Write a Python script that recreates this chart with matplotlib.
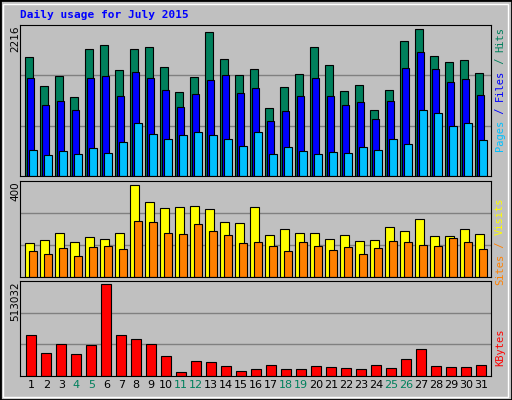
import matplotlib
matplotlib.use("Agg")
import matplotlib.pyplot as plt
from matplotlib.patches import Rectangle
import numpy as np

days = list(range(1, 32))
weekend = [4, 5, 11, 12, 18, 19, 25, 26]
hits = [1793,1355,1506,1188,1914,1974,1596,1914,1944,1642,1264,1491,2171,1763,1521,1612,1022,1340,1536,1944,1672,1279,1370,992,1294,2035,2216,1808,1717,1747,1551]
files = [1476,1068,1128,992,1476,1506,1204,1566,1476,1294,1037,1234,1445,1521,1249,1324,826,977,1204,1476,1204,1068,1113,856,1128,1627,1868,1612,1415,1460,1219]
pages = [388,312,373,327,418,342,509,796,630,554,614,660,614,554,448,660,327,433,373,327,358,342,433,388,554,478,992,947,750,796,539]
visits = [147,160,191,151,173,164,191,400,326,300,304,308,295,239,234,304,182,208,191,191,164,182,156,160,217,199,252,177,177,208,186]
sites = [112,99,125,90,129,134,121,243,239,191,186,230,199,182,147,151,134,112,151,134,116,129,99,125,156,151,138,134,169,151,121]
kbytes = [230300,129200,179700,123600,174100,513032,230300,207800,179700,112300,22500,84200,78600,56200,28100,39300,61800,39300,39300,56200,50500,44900,39300,61800,44900,95500,151600,56200,50500,50500,61800]

W, H = 512, 400
BG = "#C0C0C0"
fig = plt.figure(figsize=(W/100, H/100), dpi=100, facecolor=BG)
fig.add_artist(Rectangle((0, 0), 1, 1, transform=fig.transFigure, fill=False, lw=2, ec="black"))
fig.add_artist(Rectangle((3/W, 3/H), 1-7/W, 1-7/H, transform=fig.transFigure, fill=False, lw=1, ec="white"))
mono = "DejaVu Sans Mono"
fig.text(20/W, 1-15/H, "Daily usage for July 2015", color="#0000FF", fontweight="bold",
         family=mono, fontsize=8, va="center", ha="left")

x = np.array(days)
XL = (0.3, 31.7)

def mkax(top, bot, ymax):
    ax = fig.add_axes([20/W, 1-bot/H, 471/W, (bot-top)/H])
    ax.set_facecolor(BG)
    ax.set_xlim(*XL)
    ax.set_ylim(0, ymax)
    for f in (1/3, 2/3):
        ax.axhline(ymax*f, color="#808080", lw=1, zorder=0)
    ax.set_xticks([]); ax.set_yticks([])
    for s in ax.spines.values():
        s.set_color("black")
    return ax

def vlabel(ytop_px, parts, xpx=500):
    # parts: list of (text, color); reading bottom-to-top, last part at top
    full = "".join(t for t, c in parts)
    step = 6.2
    y = ytop_px + step*len(full)
    for t, c in parts:
        fig.text(xpx/W, 1-y/H, t, rotation=90, color=c, family=mono, fontsize=7.5,
                 ha="center", va="bottom")
        y -= step*len(t)

kw = dict(align="edge", edgecolor="black", linewidth=0.8)
ax1 = mkax(25, 176, 2281)
ax1.bar(x-0.35, hits, 0.5, color="#00805C", **kw)
ax1.bar(x-0.24, files, 0.5, color="#0000FF", **kw)
ax1.bar(x-0.10, pages, 0.5, color="#00C0FF", **kw)
fig.text(15/W, 1-25/H, "2216", rotation=90, fontsize=7.5, ha="center", va="top", family="DejaVu Sans")
vlabel(27, [("Pages", "#00C0FF"), (" / ", "#0000FF"), ("Files", "#0000FF"), (" / ", "#00805C"), ("Hits", "#00805C")])

ax2 = mkax(181, 277, 416)
ax2.bar(x-0.35, visits, 0.55, color="#FFFF00", **kw)
ax2.bar(x-0.10, sites, 0.52, color="#FF8000", **kw)
fig.text(15/W, 1-181/H, "400", rotation=90, fontsize=7.5, ha="center", va="top", family="DejaVu Sans")
vlabel(198, [("Sites", "#FF8000"), (" / ", "#FF8000"), ("Visits", "#FFFF00")])

ax3 = mkax(281, 376, 531770)
ax3.bar(x-0.29, kbytes, 0.67, color="#FF0000", **kw)
fig.text(15/W, 1-281/H, "513032", rotation=90, fontsize=7.5, ha="center", va="top", family="DejaVu Sans")
vlabel(329, [("KBytes", "#FF0000")])

for d in days:
    ax3.text(d+0.05, -0.09, str(d), transform=ax3.get_xaxis_transform(), ha="center", va="center",
             fontsize=8, color="#00805C" if d in weekend else "black")

fig.savefig("out.png", dpi=100, facecolor=BG)
